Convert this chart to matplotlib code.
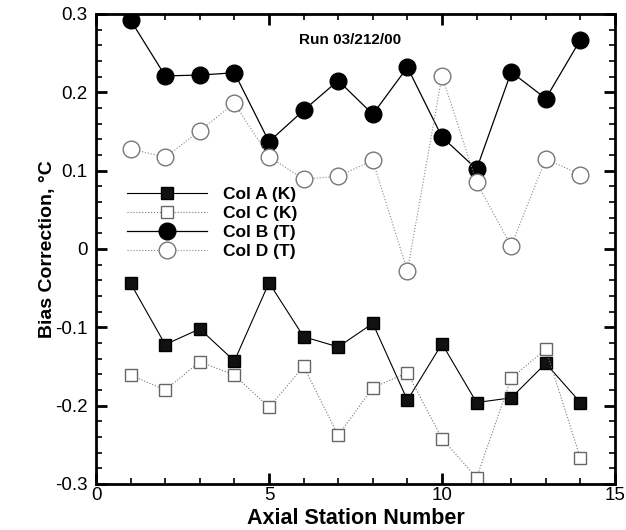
import matplotlib
matplotlib.use("Agg")
import matplotlib.pyplot as plt
from matplotlib.ticker import MultipleLocator

plt.rcParams['font.family'] = ['Liberation Sans', 'DejaVu Sans']

stations = [1, 2, 3, 4, 5, 6, 7, 8, 9, 10, 11, 12, 13, 14]
col_a_k = [-0.044, -0.122, -0.102, -0.143, -0.043, -0.112, -0.125,
           -0.095, -0.193, -0.121, -0.196, -0.190, -0.146, -0.196]
col_c_k = [-0.161, -0.180, -0.144, -0.161, -0.202, -0.150, -0.238,
           -0.177, -0.158, -0.242, -0.292, -0.165, -0.128, -0.267]
col_b_t = [0.292, 0.221, 0.222, 0.225, 0.137, 0.177, 0.215,
           0.172, 0.232, 0.143, 0.102, 0.226, 0.192, 0.267]
col_d_t = [0.128, 0.117, 0.151, 0.186, 0.118, 0.089, 0.093,
           0.113, -0.028, 0.221, 0.085, 0.004, 0.115, 0.095]

fig = plt.figure(figsize=(6.26, 5.30), dpi=100)
ax = fig.add_axes([0.1534, 0.0868, 0.829, 0.8868])

ax.plot(stations, col_a_k, color='black', lw=0.8, marker='s', ms=9,
        mfc='#111111', mec='black', label='Col A (K)')
ax.plot(stations, col_c_k, color='#777777', lw=0.8, ls=':', marker='s', ms=9,
        mfc='white', mec='#666666', label='Col C (K)')
ax.plot(stations, col_b_t, color='black', lw=0.9, marker='o', ms=12,
        mfc='black', mec='black', label='Col B (T)')
ax.plot(stations, col_d_t, color='#888888', lw=0.8, ls=':', marker='o', ms=12,
        mfc='white', mec='#777777', label='Col D (T)')

ax.set_xlim(0, 15)
ax.set_ylim(-0.3, 0.3)
ax.xaxis.set_major_locator(MultipleLocator(5))
ax.xaxis.set_minor_locator(MultipleLocator(1))
ax.yaxis.set_major_locator(MultipleLocator(0.1))
ax.yaxis.set_minor_locator(MultipleLocator(0.02))
ax.set_yticks([-0.3, -0.2, -0.1, 0, 0.1, 0.2, 0.3])
ax.set_yticklabels(['-0.3', '-0.2', '-0.1', '0', '0.1', '0.2', '0.3'])
ax.tick_params(which='both', direction='in', top=True, right=True,
               labelsize=13.5, width=1.2)
ax.tick_params(which='major', length=8, width=2)
ax.tick_params(which='minor', length=4)
ax.tick_params(axis='x', which='major', pad=2)
ax.tick_params(axis='y', which='major', pad=6)
for sp in ax.spines.values():
    sp.set_linewidth(2)

ax.set_xlabel('Axial Station Number', fontsize=15.5, fontweight='bold', labelpad=3)
ax.set_ylabel('Bias Correction, \u00b0C', fontsize=14, fontweight='bold', labelpad=-1)

ax.text(0.392, 0.944, 'Run 03/212/00', transform=ax.transAxes,
        fontsize=11, fontweight='bold', va='center')

leg = ax.legend(loc='upper left', bbox_to_anchor=(0.03, 0.665), frameon=False,
                handlelength=4.6, handletextpad=0.9, labelspacing=0.22,
                prop={'size': 12.5, 'weight': 'bold'})

fig.savefig('out.png', dpi=100)
